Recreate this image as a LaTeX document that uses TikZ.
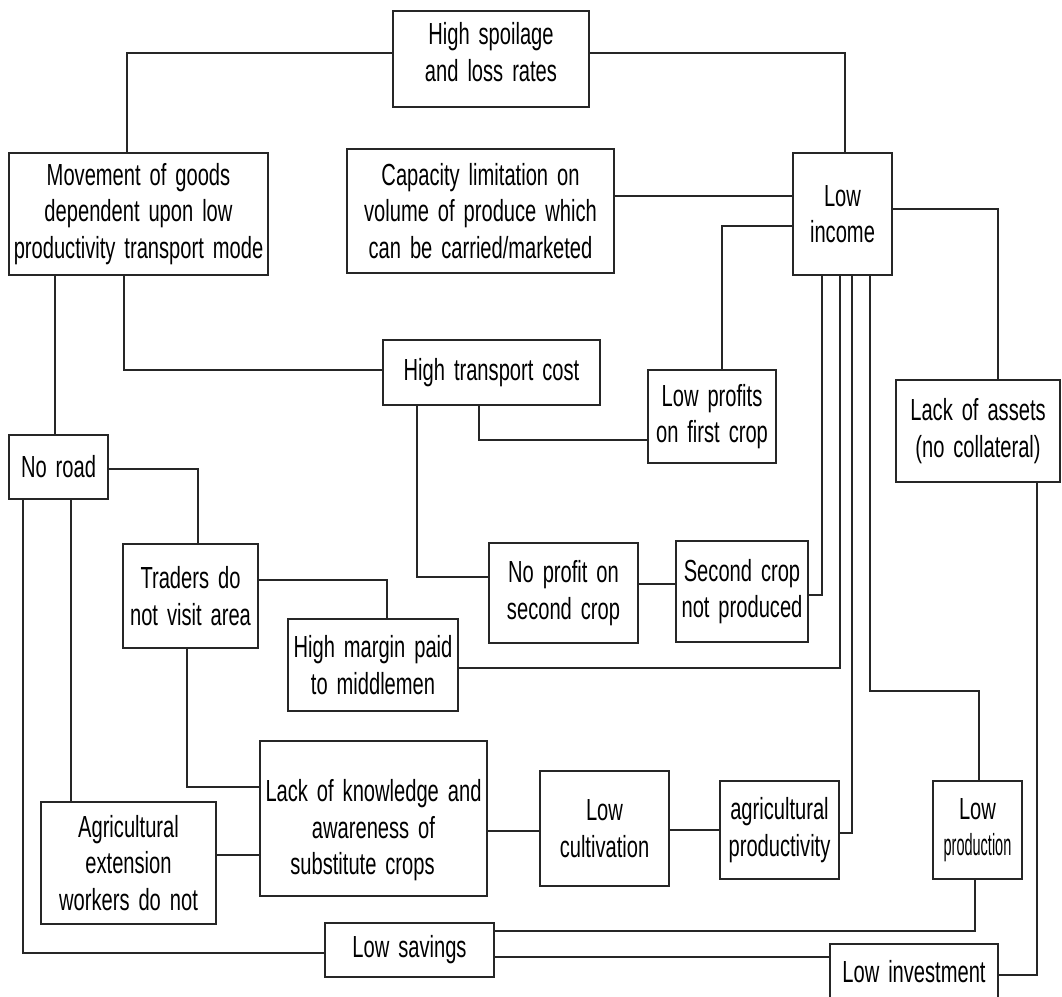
\documentclass[tikz,border=0pt]{standalone}
\usepackage{fontspec}
\setmainfont{Liberation Sans}[FakeStretch=0.66,WordSpace=1.6]
\usepackage{graphicx}
\begin{document}
\begin{tikzpicture}[x=1pt,y=-1pt,
  box/.style={draw=black!85,line width=1.2pt,align=center,inner sep=0pt,outer sep=0pt,fill=white,
    font=\fontsize{30.5}{36.5}\selectfont},
  conn/.style={draw=black!85,line width=1.2pt}]
\useasboundingbox[fill=white] (0,0) rectangle (1062,996);

% boxes
\node[box,minimum width=196pt,minimum height=96pt] (spoil) at (491,59) {High spoilage\\and loss rates\rule[-14pt]{0pt}{1pt}};
\node[box,minimum width=259pt,minimum height=122pt] (move) at (138.5,214) {Movement of goods\\dependent upon low\\productivity transport mode};
\node[box,minimum width=267pt,minimum height=124pt] (cap) at (480.5,211) {Capacity limitation on\\volume of produce which\\can be carried/marketed};
\node[box,minimum width=99pt,minimum height=122pt] (income) at (842.5,214) {Low\\income};
\node[box,minimum width=217pt,minimum height=65pt] (trans) at (491.5,372.5) {High transport cost};
\node[box,minimum width=128pt,minimum height=93pt] (lowprof) at (712,416.5) {Low profits\\on first crop};
\node[box,minimum width=164pt,minimum height=102pt] (assets) at (978,431) {Lack of assets\\(no collateral)};
\node[box,minimum width=99pt,minimum height=64pt] (noroad) at (58.5,467) {No road};
\node[box,minimum width=135pt,minimum height=104pt] (traders) at (190.5,596) {Traders do\\not visit area};
\node[box,minimum width=149pt,minimum height=100pt] (noprof) at (563.5,593) {No profit on\\second crop};
\node[box,minimum width=132pt,minimum height=101pt] (second) at (742,591.5) {Second crop\\not produced};
\node[box,minimum width=170pt,minimum height=92pt] (margin) at (373,665) {High margin paid\\to middlemen};
\node[box,minimum width=227pt,minimum height=155pt] (lack) at (373.5,818.5) {\rule{0pt}{46pt}Lack of knowledge and\\awareness of\\substitute crops\hspace*{22pt}};
\node[box,minimum width=175pt,minimum height=122pt] (ext) at (128.5,863) {Agricultural\\extension\\workers do not};
\node[box,minimum width=129pt,minimum height=115pt] (lowcult) at (604.5,828.5) {Low\\cultivation};
\node[box,minimum width=119pt,minimum height=98pt] (agprod) at (779.5,830) {agricultural\\productivity};
\node[box,minimum width=89pt,minimum height=98pt] (lowprod) at (977.5,830) {Low\\\scalebox{0.72}[1]{production}};
\node[box,minimum width=169pt,minimum height=54pt] (savings) at (409.5,950) {Low savings};
\node[box,minimum width=168pt,minimum height=56pt] (lowinv) at (914,972) {Low investment};

% waypoints
\coordinate (w1) at (127,53);
\coordinate (w2) at (845,53);
\coordinate (w3) at (0,196);
\coordinate (w4) at (722,226);
\coordinate (w5) at (998,209);
\coordinate (w6) at (124,370);
\coordinate (w7) at (55,0);
\coordinate (w8) at (479,440);
\coordinate (w9) at (417,577);
\coordinate (w10) at (0,584);
\coordinate (w11) at (822,595);
\coordinate (w12) at (840,668);
\coordinate (w13) at (852,833);
\coordinate (w14) at (870,691);
\coordinate (w14b) at (979,691);
\coordinate (w15) at (198,469);
\coordinate (w16) at (23,953);
\coordinate (w17) at (71,0);
\coordinate (w18) at (387,580);
\coordinate (w19) at (187,787);
\coordinate (w20) at (0,855);
\coordinate (w21) at (0,831);
\coordinate (w22) at (0,830);
\coordinate (w23) at (975,931);
\coordinate (w24) at (0,957);
\coordinate (w25) at (1037,975);

% connectors
\draw[conn] (spoil.west |- w1) -| (move.north -| w1);
\draw[conn] (spoil.east |- w2) -| (income.north -| w2);
\draw[conn] (cap.east |- w3) -- (income.west |- w3);
\draw[conn] (income.west |- w4) -| (lowprof.north -| w4);
\draw[conn] (income.east |- w5) -| (assets.north -| w5);
\draw[conn] (move.south -| w6) |- (trans.west |- w6);
\draw[conn] (move.south -| w7) -- (noroad.north -| w7);
\draw[conn] (trans.south -| w8) |- (lowprof.west |- w8);
\draw[conn] (trans.south -| w9) |- (noprof.west |- w9);
\draw[conn] (noprof.east |- w10) -- (second.west |- w10);
\draw[conn] (second.east |- w11) -| (income.south -| w11);
\draw[conn] (margin.east |- w12) -| (income.south -| w12);
\draw[conn] (agprod.east |- w13) -| (income.south -| w13);
\draw[conn] (income.south -| w14) |- (w14b) -- (lowprod.north -| w14b);
\draw[conn] (noroad.east |- w15) -| (traders.north -| w15);
\draw[conn] (noroad.south -| w16) |- (savings.west |- w16);
\draw[conn] (noroad.south -| w17) -- (ext.north -| w17);
\draw[conn] (traders.east |- w18) -| (margin.north -| w18);
\draw[conn] (traders.south -| w19) |- (lack.west |- w19);
\draw[conn] (lack.west |- w20) -- (ext.east |- w20);
\draw[conn] (lack.east |- w21) -- (lowcult.west |- w21);
\draw[conn] (lowcult.east |- w22) -- (agprod.west |- w22);
\draw[conn] (lowprod.south -| w23) |- (savings.east |- w23);
\draw[conn] (savings.east |- w24) -- (lowinv.west |- w24);
\draw[conn] (assets.south -| w25) |- (lowinv.east |- w25);
\end{tikzpicture}
\end{document}
